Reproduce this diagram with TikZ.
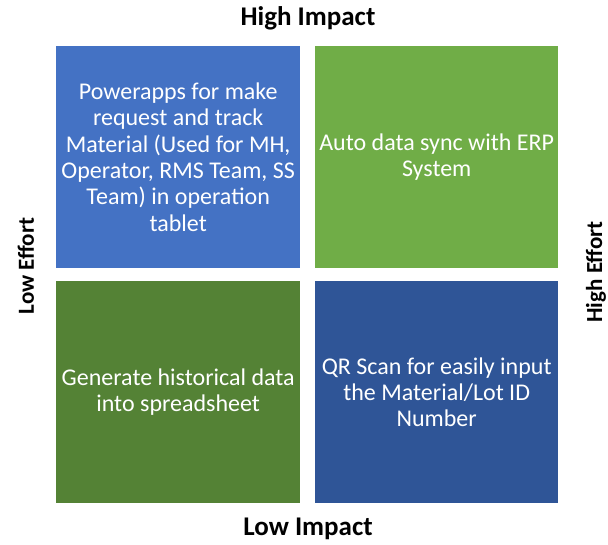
\documentclass[tikz,border=0pt]{standalone}
\usepackage{fontspec}
\setmainfont{Carlito}
\definecolor{cblue}{HTML}{4472C4}
\definecolor{cgreen}{HTML}{70AD47}
\definecolor{cdgreen}{HTML}{548235}
\definecolor{cdblue}{HTML}{2F5597}
\begin{document}
\begin{tikzpicture}[x=1pt,y=-1pt,
  quad/.style={minimum width=244pt,minimum height=222pt,inner sep=0pt,anchor=north west},
  qtext/.style={align=center,text=white,inner sep=0pt,font=\fontsize{24}{26.3}\selectfont},
  axis/.style={font=\bfseries\fontsize{27}{28}\selectfont,text=black},
  saxis/.style={font=\bfseries\fontsize{23}{26}\selectfont,text=black,rotate=90}]
\useasboundingbox (0,0) rectangle (608,544);
\node[quad,fill=cblue] (tl) at (56,46) {};
\node[quad,fill=cgreen,minimum width=243pt] (tr) at (315,46) {};
\node[quad,fill=cdgreen] (bl) at (56,281) {};
\node[quad,fill=cdblue,minimum width=243pt] (br) at (315,281) {};
\node[qtext] (tlt) at (tl.center) {Powerapps for make\\request and track\\Material (Used for MH,\\Operator, RMS Team, SS\\Team) in operation\\tablet};
\node[qtext] (trt) at (tr.center) {Auto data sync with ERP\\System};
\node[qtext] (blt) at (bl.center) {Generate historical data\\into spreadsheet};
\node[qtext] (brt) at (br.center) {QR Scan for easily input\\the Material/Lot ID\\Number};
\node[axis] (hi) at (308,18) {High Impact};
\node[axis] (li) at (308,529) {Low Impact};
\node[saxis] (le) at (26,266) {Low Effort};
\node[saxis] (he) at (596,272) {High Effort};
\end{tikzpicture}
\end{document}
